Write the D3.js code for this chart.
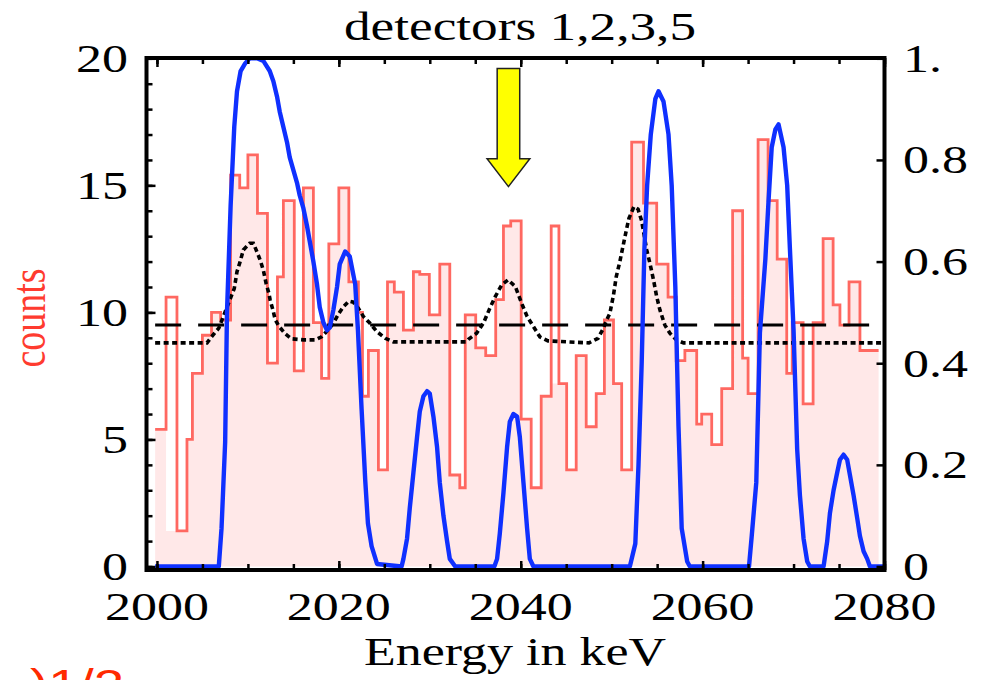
<!DOCTYPE html>
<html>
<head>
<meta charset="utf-8">
<script src="https://cdn.jsdelivr.net/npm/d3@7"></script>
<style>
  body { margin: 0; background: #fff; }
  svg { display: block; }
  text { font-family: "Liberation Serif", "Times New Roman", serif; }
</style>
</head>
<body>
<svg id="chart" width="985" height="680"></svg>
<script>
// ---- data ----
// red histogram: left edge of each step (keV) and its counts
var stepEdges = [1999.8, 2001.0, 2002.2, 2003.3, 2003.9, 2005.0, 2006.0, 2007.0, 2008.1, 2009.1,
  2010.0, 2011.05, 2012.15, 2013.25, 2013.9, 2015.1, 2016.1, 2017.2, 2018.1, 2018.9,
  2020.0, 2021.1, 2022.15, 2022.6, 2023.25, 2024.35, 2025.35, 2026.1, 2027.1, 2028.2,
  2028.9, 2029.95, 2031.1, 2032.2, 2033.3, 2033.9, 2035.05, 2036.15, 2037.25, 2038.1,
  2038.9, 2040.05, 2041.15, 2042.25, 2043.35, 2044.2, 2045.05, 2046.1, 2047.2, 2048.3,
  2049.2, 2050.2, 2051.1, 2052.2, 2053.5, 2054.95, 2056.2, 2057.1, 2058.05, 2059.35,
  2059.9, 2061.0, 2062.1, 2063.3, 2064.4, 2065.0, 2066.1, 2067.2, 2068.2, 2069.25,
  2069.85, 2071.05, 2072.15, 2073.25, 2074.35, 2075.1, 2076.1, 2077.3];
var stepEnd = 2079.35;
var stepCounts = [5.4, 10.6, 1.4, 5.0, 7.6, 9.1, 10.0, 9.7, 15.4, 14.9,
  16.2, 13.9, 8.0, 11.4, 14.4, 7.7, 14.9, 9.6, 7.4, 12.7,
  14.9, 11.2, 10.0, 6.7, 8.5, 3.8, 11.2, 10.8, 9.3, 11.6,
  11.5, 9.9, 11.9, 3.6, 3.1, 9.9, 8.6, 8.3, 10.5, 13.4,
  13.6, 5.8, 3.1, 6.7, 13.4, 7.2, 3.8, 8.3, 5.5, 6.8,
  9.7, 7.2, 3.8, 16.7, 14.3, 11.9, 10.6, 8.1, 8.5, 5.6,
  6.0, 4.8, 7.0, 14.0, 8.2, 6.8, 16.8, 14.4, 12.1, 7.6,
  9.6, 6.4, 9.6, 12.9, 10.3, 9.5, 11.2, 8.5];
// pink filled area (same steps, a couple of spikes are left unfilled)
var fillCounts = [5.4, 1.4, 1.4, 5.0, 7.6, 9.1, 10.0, 9.7, 15.4, 14.9,
  16.2, 13.9, 8.0, 11.4, 14.4, 7.7, 14.9, 9.6, 7.4, 12.7,
  14.9, 11.2, 10.0, 6.7, 8.5, 3.8, 11.2, 10.8, 9.3, 11.6,
  11.5, 9.9, 11.9, 3.6, 3.1, 9.9, 8.6, 8.3, 10.5, 13.4,
  13.6, 5.8, 3.1, 6.7, 7.2, 7.2, 3.8, 8.3, 5.5, 6.8,
  9.7, 7.2, 3.8, 16.7, 14.3, 11.9, 10.6, 8.1, 8.5, 5.6,
  6.0, 4.8, 7.0, 14.0, 8.2, 6.8, 16.8, 14.4, 12.1, 7.6,
  9.6, 6.4, 9.6, 12.9, 10.3, 9.5, 11.2, 8.5];

// blue line (left axis, counts)
var blueKeV = [1999.8, 2006.8, 2007.1, 2007.5, 2007.7, 2008.1, 2008.5, 2008.8, 2009.2, 2009.7,
  2010.2, 2011.0, 2011.7, 2012.4, 2012.8, 2013.2, 2013.5, 2013.9, 2014.3, 2014.6,
  2015.0, 2015.4, 2015.7, 2016.1, 2016.5, 2016.8, 2017.2, 2017.6, 2017.9, 2018.3,
  2018.7, 2019.0, 2019.4, 2019.8, 2020.1, 2020.7, 2021.2, 2021.8, 2022.1, 2022.5,
  2022.9, 2023.2, 2023.6, 2024.2, 2026.9, 2027.1, 2027.5, 2027.8, 2028.2, 2028.6,
  2028.9, 2029.3, 2029.7, 2030.0, 2030.4, 2030.8, 2031.1, 2031.5, 2031.9, 2032.2,
  2032.8, 2037.1, 2037.4, 2037.7, 2038.1, 2038.5, 2038.8, 2039.2, 2039.6, 2039.9,
  2040.3, 2040.7, 2041.0, 2041.4, 2052.0, 2052.6, 2052.95, 2053.3, 2053.6, 2053.9,
  2054.3, 2054.8, 2055.15, 2055.7, 2056.25, 2056.6, 2057.0, 2057.35, 2057.7, 2058.3,
  2058.6, 2065.1, 2065.4, 2065.9, 2066.3, 2066.9, 2067.25, 2067.6, 2068.0, 2068.35,
  2068.9, 2069.3, 2069.6, 2070.0, 2070.4, 2070.7, 2071.1, 2071.5, 2071.8, 2073.3,
  2073.7, 2074.0, 2074.4, 2074.8, 2075.1, 2075.5, 2075.9, 2076.2, 2076.6, 2077.0,
  2077.3, 2077.7, 2078.1, 2078.4, 2080.0];
var blueCounts = [0, 0, 1.5, 4.9, 10.0, 14.2, 17.3, 18.7, 19.5, 19.8,
  20.0, 20.0, 19.9, 19.5, 19.1, 18.5, 17.9, 17.3, 16.7, 16.1,
  15.6, 15.1, 14.6, 14.1, 13.4, 12.8, 12.0, 11.1, 10.2, 9.6,
  9.3, 9.4, 10.1, 11.0, 11.9, 12.4, 12.2, 11.1, 9.3, 6.2,
  3.4, 1.7, 0.8, 0.1, 0, 0.3, 1.1, 2.3, 3.7, 5.1,
  6.1, 6.7, 6.9, 6.8, 5.9, 4.7, 3.3, 2.0, 1.0, 0.3,
  0, 0, 0.3, 1.3, 2.9, 4.7, 5.7, 6.0, 5.9, 5.1,
  3.3, 1.5, 0.3, 0, 0, 0.9, 4.0, 8.0, 12.5, 15.0,
  17.0, 18.4, 18.7, 18.3, 17.0, 15.0, 11.0, 5.5, 1.5, 0.2,
  0, 0, 1.2, 3.3, 9.2, 12.1, 14.4, 16.5, 17.2, 17.4,
  16.5, 15.0, 12.5, 9.3, 4.6, 2.8, 1.1, 0.2, 0, 0,
  1.0, 2.1, 3.0, 3.7, 4.2, 4.4, 4.2, 3.6, 2.8, 1.9,
  1.2, 0.6, 0.3, 0, 0];

// black dotted curve (right axis, 0..1)
var dotKeV = [1999.8, 2005.5, 2006.0, 2006.8, 2007.3, 2007.8, 2008.5, 2008.8, 2009.1, 2009.5,
  2010.2, 2010.6, 2011.0, 2011.35, 2011.7, 2012.0, 2012.3, 2012.45, 2012.75, 2013.0,
  2013.4, 2014.1, 2014.8, 2016.1, 2017.4, 2018.1, 2019.0, 2019.5, 2020.0, 2020.5,
  2021.1, 2021.6, 2022.15, 2022.7, 2023.4, 2024.2, 2025.1, 2026.0, 2034.0, 2034.25,
  2035.15, 2035.9, 2036.6, 2037.2, 2037.9, 2038.6, 2039.4, 2040.1, 2040.7, 2041.4,
  2042.1, 2043.0, 2047.5, 2048.5, 2049.1, 2049.45, 2049.8, 2050.2, 2050.5, 2050.9,
  2051.3, 2051.65, 2051.9, 2052.45, 2052.9, 2053.3, 2053.85, 2054.2, 2054.6, 2054.95,
  2055.3, 2055.85, 2056.4, 2057.1, 2057.9, 2080.0];
var dotValues = [0.440, 0.440, 0.452, 0.469, 0.492, 0.515, 0.547, 0.580, 0.597, 0.623,
  0.636, 0.636, 0.619, 0.603, 0.583, 0.557, 0.538, 0.524, 0.505, 0.486,
  0.473, 0.458, 0.448, 0.446, 0.446, 0.452, 0.469, 0.482, 0.498, 0.511,
  0.522, 0.520, 0.508, 0.492, 0.479, 0.462, 0.449, 0.442, 0.442, 0.447,
  0.459, 0.479, 0.508, 0.531, 0.554, 0.564, 0.551, 0.518, 0.492, 0.472,
  0.452, 0.444, 0.440, 0.449, 0.469, 0.485, 0.498, 0.534, 0.570, 0.600,
  0.635, 0.665, 0.685, 0.708, 0.703, 0.680, 0.623, 0.597, 0.564, 0.531,
  0.505, 0.475, 0.459, 0.446, 0.440, 0.440];

var hLineCounts = 9.5;          // long dashed horizontal
var leftTicks = [0, 5, 10, 15, 20];
var rightTicks = [0, 0.2, 0.4, 0.6, 0.8, 1];
var rightLabels = ["0", "0.2", "0.4", "0.6", "0.8", "1."];
var bottomTicks = [2000, 2020, 2040, 2060, 2080];
// arrow marking 2039 keV
var arrowKeV = 2038.65, arrowTop = 19.6, arrowNeck = 16.05, arrowTip = 14.95;

// ---- layout ----
var svg = d3.select("#chart");
var plotL = 146.5, plotR = 884.5, plotT = 58, plotB = 570;
var x = d3.scaleLinear().domain([1998.85, 2080]).range([plotL, plotR]);
var y = d3.scaleLinear().domain([0, 20]).range([566.5, 58.3]);
var y2 = d3.scaleLinear().domain([0, 1]).range([566.5, 58.3]);
var SX = 1.3; // picture is stretched sideways

function label(g, txt, tx, ty, anchor, size, color) {
  return g.append("text")
    .attr("transform", "translate(" + tx + "," + ty + ") scale(" + SX + ",1)")
    .attr("text-anchor", anchor)
    .style("font-size", size + "px")
    .style("fill", color || "#000")
    .text(txt);
}

svg.append("clipPath").attr("id", "plotclip")
  .append("rect").attr("x", plotL).attr("y", plotT)
  .attr("width", plotR - plotL).attr("height", plotB - plotT);
var plot = svg.append("g").attr("clip-path", "url(#plotclip)");

// step data with end point
var stepPts = stepEdges.map(function (e, i) { return [e, stepCounts[i]]; });
stepPts.push([stepEnd, stepCounts[stepCounts.length - 1]]);
var fillPts = stepEdges.map(function (e, i) { return [e, fillCounts[i]]; });
fillPts.push([stepEnd, fillCounts[fillCounts.length - 1]]);

plot.append("path")
  .datum(fillPts)
  .attr("d", d3.area().curve(d3.curveStepAfter)
    .x(function (d) { return x(d[0]); })
    .y0(y(0))
    .y1(function (d) { return y(d[1]); }))
  .attr("fill", "#ffe8e8");

plot.append("path")
  .datum(stepPts)
  .attr("d", d3.line().curve(d3.curveStepAfter)
    .x(function (d) { return x(d[0]); })
    .y(function (d) { return y(d[1]); }))
  .attr("fill", "none")
  .attr("stroke", "#ff6861")
  .attr("stroke-width", 2.8);

// horizontal long dashes
plot.append("line")
  .attr("x1", x(1999.8)).attr("x2", x(2080))
  .attr("y1", y(hLineCounts)).attr("y2", y(hLineCounts))
  .attr("stroke", "#000").attr("stroke-width", 3)
  .attr("stroke-dasharray", "26,17");

// dotted curve on right axis
plot.append("path")
  .datum(dotKeV.map(function (k, i) { return [k, dotValues[i]]; }))
  .attr("d", d3.line()
    .x(function (d) { return x(d[0]); })
    .y(function (d) { return y2(d[1]); }))
  .attr("fill", "none")
  .attr("stroke", "#000")
  .attr("stroke-width", 3.6)
  .attr("stroke-dasharray", "5,3.5");

// blue curve
plot.append("path")
  .datum(blueKeV.map(function (k, i) { return [k, blueCounts[i]]; }))
  .attr("d", d3.line()
    .x(function (d) { return x(d[0]); })
    .y(function (d) { return y(d[1]); }))
  .attr("fill", "none")
  .attr("stroke", "#0f30ff")
  .attr("stroke-width", 4.4)
  .attr("stroke-linejoin", "round");

// ---- ticks (inward) ----
function ticks(axis, tr, vals, size) {
  var g = svg.append("g").attr("transform", tr)
    .call(axis.tickValues(vals).tickSize(size).tickFormat(""));
  g.select(".domain").remove();
  g.selectAll(".tick line").attr("stroke", "#000").attr("stroke-width", 2.5);
}
ticks(d3.axisRight(y), "translate(" + plotL + ",0)", d3.range(0, 21, 1), 6);
ticks(d3.axisRight(y), "translate(" + plotL + ",0)", leftTicks, 9);
ticks(d3.axisLeft(y2), "translate(" + plotR + ",0)", rightTicks, 8);
ticks(d3.axisTop(x), "translate(0," + plotB + ")", d3.range(2000, 2081, 5), 6);
ticks(d3.axisTop(x), "translate(0," + plotB + ")", bottomTicks, 9);
ticks(d3.axisBottom(x), "translate(0," + plotT + ")", d3.range(2000, 2081, 5), 6);
ticks(d3.axisBottom(x), "translate(0," + plotT + ")", bottomTicks, 9);

// frame
svg.append("rect")
  .attr("x", plotL).attr("y", plotT)
  .attr("width", plotR - plotL).attr("height", plotB - plotT)
  .attr("fill", "none").attr("stroke", "#000").attr("stroke-width", 4);

// arrow
var ax = x(arrowKeV), hw = x(arrowKeV + 1.24) - ax, hh = x(arrowKeV + 2.35) - ax;
svg.append("path")
  .attr("d", "M" + (ax - hw) + "," + y(arrowTop) +
    "L" + (ax + hw) + "," + y(arrowTop) +
    "L" + (ax + hw) + "," + y(arrowNeck) +
    "L" + (ax + hh) + "," + y(arrowNeck) +
    "L" + ax + "," + y(arrowTip) +
    "L" + (ax - hh) + "," + y(arrowNeck) +
    "L" + (ax - hw) + "," + y(arrowNeck) + "Z")
  .attr("fill", "#ffff00")
  .attr("stroke", "#222")
  .attr("stroke-width", 1.5);

// ---- labels ----
var lab = svg.append("g");
leftTicks.forEach(function (v) { label(lab, String(v), 128, y(v) + 13.5, "end", 40); });
rightTicks.forEach(function (v, i) { label(lab, rightLabels[i], 903, y2(v) + 13.5, "start", 40); });
bottomTicks.forEach(function (v) { label(lab, String(v), x(v), 620, "middle", 40); });

label(lab, "detectors 1,2,3,5", 520, 40, "middle", 41);
label(lab, "Energy in keV", 515, 665, "middle", 40);

// rotated axis title
lab.append("text")
  .attr("transform", "translate(45,318) scale(" + SX + ",1) rotate(-90)")
  .attr("text-anchor", "middle")
  .style("font-size", "38px")
  .style("fill", "#ff3b2f")
  .text("counts");

// text cut off by the bottom edge, as in the reference
lab.append("text")
  .attr("transform", "translate(30,699) scale(" + SX + ",1)")
  .style("font-family", "'Liberation Sans', Arial, sans-serif")
  .style("font-size", "42px")
  .style("fill", "#ff2a00")
  .text(")1/2");
</script>
</body>
</html>
